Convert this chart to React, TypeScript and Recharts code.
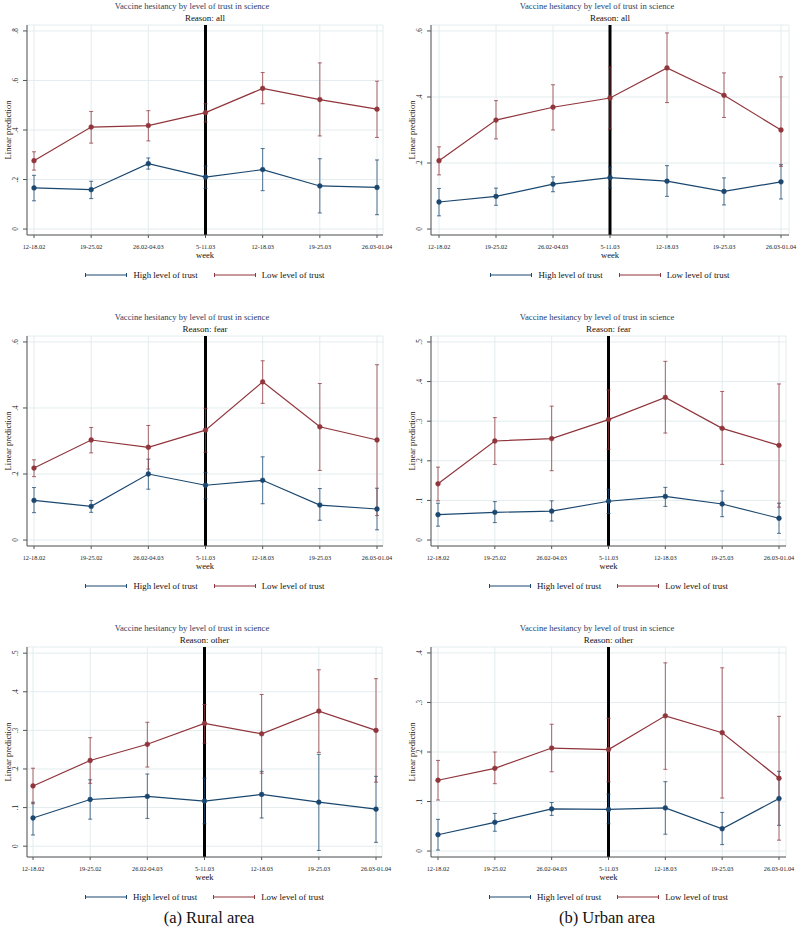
import React from 'react';
import { LineChart, Line, XAxis, YAxis, CartesianGrid, ReferenceLine, ErrorBar } from 'recharts';

const FONT = "'Liberation Serif', 'Times New Roman', Times, serif";
const BLUE = '#1a476f';
const RED = '#90353b';
const TITLE_COLOR = '#2c3d66';

const weeks = ['12-18.02', '19-25.02', '26.02-04.03', '5-11.03', '12-18.03', '19-25.03', '26.03-01.04'];
const seriesNames = ['High level of trust', 'Low level of trust'];
const mainTitle = 'Vaccine hesitancy by level of trust in science';

// Rural, reason: all
const ruralAllHigh = [0.166, 0.159, 0.264, 0.210, 0.240, 0.174, 0.168];
const ruralAllHighLo = [0.114, 0.123, 0.242, 0.164, 0.155, 0.065, 0.058];
const ruralAllHighHi = [0.217, 0.193, 0.287, 0.255, 0.325, 0.284, 0.279];
const ruralAllLow = [0.276, 0.412, 0.418, 0.470, 0.568, 0.523, 0.484];
const ruralAllLowLo = [0.238, 0.347, 0.356, 0.432, 0.506, 0.376, 0.370];
const ruralAllLowHi = [0.312, 0.475, 0.478, 0.506, 0.632, 0.671, 0.597];
const ruralAllTicks = [0, 0.2, 0.4, 0.6, 0.8];

// Urban, reason: all
const urbanAllHigh = [0.082, 0.099, 0.136, 0.156, 0.145, 0.114, 0.143];
const urbanAllHighLo = [0.040, 0.072, 0.113, 0.124, 0.099, 0.073, 0.091];
const urbanAllHighHi = [0.123, 0.124, 0.158, 0.188, 0.192, 0.155, 0.195];
const urbanAllLow = [0.207, 0.330, 0.369, 0.397, 0.488, 0.405, 0.300];
const urbanAllLowLo = [0.164, 0.273, 0.300, 0.303, 0.383, 0.338, 0.190];
const urbanAllLowHi = [0.249, 0.389, 0.437, 0.491, 0.594, 0.473, 0.461];
const urbanAllTicks = [0, 0.2, 0.4, 0.6];

// Rural, reason: fear
const ruralFearHigh = [0.120, 0.102, 0.200, 0.166, 0.181, 0.106, 0.094];
const ruralFearHighLo = [0.083, 0.084, 0.154, 0.125, 0.110, 0.060, 0.031];
const ruralFearHighHi = [0.159, 0.120, 0.245, 0.205, 0.252, 0.156, 0.157];
const ruralFearLow = [0.218, 0.303, 0.281, 0.333, 0.479, 0.343, 0.303];
const ruralFearLowLo = [0.192, 0.264, 0.215, 0.266, 0.414, 0.211, 0.074];
const ruralFearLowHi = [0.243, 0.341, 0.347, 0.399, 0.543, 0.474, 0.531];
const ruralFearTicks = [0, 0.2, 0.4, 0.6];

// Urban, reason: fear
const urbanFearHigh = [0.064, 0.070, 0.073, 0.098, 0.110, 0.091, 0.055];
const urbanFearHighLo = [0.035, 0.044, 0.048, 0.067, 0.085, 0.059, 0.017];
const urbanFearHighHi = [0.093, 0.097, 0.099, 0.128, 0.133, 0.124, 0.093];
const urbanFearLow = [0.142, 0.250, 0.256, 0.304, 0.360, 0.282, 0.239];
const urbanFearLowLo = [0.099, 0.191, 0.175, 0.229, 0.270, 0.191, 0.083];
const urbanFearLowHi = [0.184, 0.309, 0.338, 0.379, 0.451, 0.375, 0.394];
const urbanFearTicks = [0, 0.1, 0.2, 0.3, 0.4, 0.5];

// Rural, reason: other
const ruralOtherHigh = [0.073, 0.121, 0.129, 0.117, 0.134, 0.114, 0.096];
const ruralOtherHighLo = [0.029, 0.070, 0.072, 0.058, 0.073, -0.011, 0.010];
const ruralOtherHighHi = [0.114, 0.172, 0.187, 0.176, 0.194, 0.238, 0.181];
const ruralOtherLow = [0.156, 0.222, 0.264, 0.318, 0.291, 0.350, 0.300];
const ruralOtherLowLo = [0.110, 0.163, 0.205, 0.267, 0.189, 0.243, 0.166];
const ruralOtherLowHi = [0.202, 0.281, 0.321, 0.367, 0.393, 0.457, 0.434];
const ruralOtherTicks = [0, 0.1, 0.2, 0.3, 0.4, 0.5];

// Urban, reason: other
const urbanOtherHigh = [0.033, 0.058, 0.085, 0.084, 0.087, 0.045, 0.106];
const urbanOtherHighLo = [0.002, 0.040, 0.072, 0.055, 0.034, 0.013, 0.052];
const urbanOtherHighHi = [0.064, 0.076, 0.098, 0.115, 0.140, 0.078, 0.161];
const urbanOtherLow = [0.143, 0.167, 0.208, 0.205, 0.273, 0.239, 0.147];
const urbanOtherLowLo = [0.103, 0.136, 0.160, 0.140, 0.165, 0.107, 0.022];
const urbanOtherLowHi = [0.183, 0.200, 0.256, 0.268, 0.380, 0.370, 0.272];
const urbanOtherTicks = [0, 0.1, 0.2, 0.3, 0.4];

const buildRows = (
  high: number[], highLo: number[], highHi: number[],
  low: number[], lowLo: number[], lowHi: number[]
) =>
  weeks.map((w, i) => ({
    week: w,
    high: high[i],
    highErr: [high[i] - highLo[i], highHi[i] - high[i]],
    low: low[i],
    lowErr: [low[i] - lowLo[i], lowHi[i] - low[i]],
  }));

const fmt = (v: number) => (v === 0 ? '0' : v.toFixed(1).replace(/^0/, ''));

type PanelDef = {
  reason: string;
  rows: any[];
  ticks: number[];
  domain: [number, number];
  yW: number;
  mr: number;
  pl: number;
  pr: number;
  titleX: number;
};

const W = 399;
const H = 265;
const PLOT_TOP = 25;
const PLOT_BOTTOM = 235;

function CenterText(props: { x: number; y: number; size: number; color?: string; children: React.ReactNode; rotate?: boolean }) {
  const { x, y, size, color = '#111', children, rotate } = props;
  return (
    <div
      style={{
        position: 'absolute',
        left: x,
        top: y,
        transform: `translate(-50%, -50%)${rotate ? ' rotate(-90deg)' : ''}`,
        fontFamily: FONT,
        fontSize: size,
        lineHeight: `${size + 2}px`,
        color,
        whiteSpace: 'nowrap',
      }}
    >
      {children}
    </div>
  );
}

function LegendItem({ color, label }: { color: string; label: string }) {
  return (
    <div style={{ display: 'flex', alignItems: 'center' }}>
      <svg width={42} height={6} style={{ display: 'block' }}>
        <line x1={0.5} y1={3} x2={41.5} y2={3} stroke={color} strokeWidth={1.2} />
        <line x1={0.5} y1={1} x2={0.5} y2={5} stroke={color} strokeWidth={1} />
        <line x1={41.5} y1={1} x2={41.5} y2={5} stroke={color} strokeWidth={1} />
      </svg>
      <span style={{ marginLeft: 6, fontFamily: FONT, fontSize: 8.8, color: '#111', whiteSpace: 'nowrap' }}>{label}</span>
    </div>
  );
}

function Panel({ def, left, top }: { def: PanelDef; left: number; top: number }) {
  const plotLeft = def.yW;
  const plotRight = W - def.mr;
  const cx = (plotLeft + plotRight) / 2;

  const YTick = (p: any) => {
    const tx = def.yW - 11;
    return (
      <text
        x={tx}
        y={p.y}
        transform={`rotate(-90 ${tx} ${p.y})`}
        textAnchor="middle"
        dominantBaseline="central"
        fontFamily={FONT}
        fontSize={7.2}
        fill="#222"
      >
        {fmt(p.payload.value)}
      </text>
    );
  };

  const XTick = (p: any) => (
    <text
      x={p.x}
      y={246.5}
      textAnchor="middle"
      dominantBaseline="central"
      fontFamily={FONT}
      fontSize={6.3}
      fill="#222"
    >
      {p.payload.value}
    </text>
  );

  return (
    <div style={{ position: 'absolute', left, top, width: W, height: 300 }}>
      <CenterText x={def.titleX} y={6} size={8.6} color={TITLE_COLOR}>{mainTitle}</CenterText>
      <CenterText x={cx} y={18} size={9}>{`Reason: ${def.reason}`}</CenterText>
      <LineChart
        width={W}
        height={H}
        data={def.rows}
        margin={{ top: PLOT_TOP, right: def.mr, bottom: 0, left: 0 }}
      >
        <CartesianGrid stroke="#e3ecee" strokeWidth={1} />
        <XAxis
          dataKey="week"
          scale="point"
          padding={{ left: def.pl, right: def.pr }}
          height={H - PLOT_BOTTOM}
          interval={0}
          tickSize={3}
          tick={XTick}
          stroke="#555"
          axisLine={{ stroke: '#555', strokeWidth: 1 }}
          tickLine={{ stroke: '#555' }}
        />
        <YAxis
          type="number"
          domain={def.domain}
          ticks={def.ticks}
          allowDataOverflow
          width={def.yW}
          tickSize={4}
          tick={YTick}
          axisLine={{ stroke: '#555', strokeWidth: 1 }}
          tickLine={{ stroke: '#555' }}
        />
        <ReferenceLine x="5-11.03" stroke="#000" strokeWidth={3} />
        <Line
          dataKey="high"
          name={seriesNames[0]}
          stroke={BLUE}
          strokeWidth={1.2}
          dot={{ r: 2.4, fill: BLUE, stroke: BLUE, strokeWidth: 0.5 }}
          activeDot={false}
          isAnimationActive={false}
        >
          <ErrorBar dataKey="highErr" direction="y" width={2} stroke={BLUE} strokeOpacity={0.75} strokeWidth={1} isAnimationActive={false} />
        </Line>
        <Line
          dataKey="low"
          name={seriesNames[1]}
          stroke={RED}
          strokeWidth={1.2}
          dot={{ r: 2.4, fill: RED, stroke: RED, strokeWidth: 0.5 }}
          activeDot={false}
          isAnimationActive={false}
        >
          <ErrorBar dataKey="lowErr" direction="y" width={2} stroke={RED} strokeOpacity={0.75} strokeWidth={1} isAnimationActive={false} />
        </Line>
      </LineChart>
      <CenterText x={def.yW - 19} y={(PLOT_TOP + PLOT_BOTTOM) / 2} size={8.5} rotate>Linear prediction</CenterText>
      <CenterText x={cx} y={255} size={8.5}>week</CenterText>
      <div
        style={{
          position: 'absolute',
          left: cx - 160,
          width: 320,
          top: 269,
          height: 12,
          display: 'flex',
          justifyContent: 'center',
          alignItems: 'center',
          gap: 16,
        }}
      >
        <LegendItem color={BLUE} label={seriesNames[0]} />
        <LegendItem color={RED} label={seriesNames[1]} />
      </div>
    </div>
  );
}

const ruralAll: PanelDef = {
  reason: 'all',
  rows: buildRows(ruralAllHigh, ruralAllHighLo, ruralAllHighHi, ruralAllLow, ruralAllLowLo, ruralAllLowHi),
  ticks: ruralAllTicks, domain: [-0.024, 0.824], yW: 27, mr: 16, pl: 7, pr: 6, titleX: 192,
};
const urbanAll: PanelDef = {
  reason: 'all',
  rows: buildRows(urbanAllHigh, urbanAllHighLo, urbanAllHighHi, urbanAllLow, urbanAllLowLo, urbanAllLowHi),
  ticks: urbanAllTicks, domain: [-0.018, 0.618], yW: 32, mr: 9, pl: 8, pr: 8, titleX: 198,
};
const ruralFear: PanelDef = {
  reason: 'fear',
  rows: buildRows(ruralFearHigh, ruralFearHighLo, ruralFearHighHi, ruralFearLow, ruralFearLowLo, ruralFearLowHi),
  ticks: ruralFearTicks, domain: [-0.018, 0.618], yW: 27, mr: 16, pl: 7, pr: 6, titleX: 192,
};
const urbanFear: PanelDef = {
  reason: 'fear',
  rows: buildRows(urbanFearHigh, urbanFearHighLo, urbanFearHighHi, urbanFearLow, urbanFearLowLo, urbanFearLowHi),
  ticks: urbanFearTicks, domain: [-0.015, 0.515], yW: 32, mr: 12, pl: 7, pr: 7, titleX: 198,
};
const ruralOther: PanelDef = {
  reason: 'other',
  rows: buildRows(ruralOtherHigh, ruralOtherHighLo, ruralOtherHighHi, ruralOtherLow, ruralOtherLowLo, ruralOtherLowHi),
  ticks: ruralOtherTicks, domain: [-0.028, 0.516], yW: 27, mr: 17, pl: 6, pr: 6, titleX: 192,
};
const urbanOther: PanelDef = {
  reason: 'other',
  rows: buildRows(urbanOtherHigh, urbanOtherHighLo, urbanOtherHighHi, urbanOtherLow, urbanOtherLowLo, urbanOtherLowHi),
  ticks: urbanOtherTicks, domain: [-0.012, 0.412], yW: 32, mr: 12, pl: 7, pr: 7, titleX: 198,
};

export default function App() {
  return (
    <div style={{ position: 'absolute', left: 0, top: 0, width: 798, height: 930, background: '#fff', overflow: 'hidden' }}>
      <Panel def={ruralAll} left={0} top={0} />
      <Panel def={urbanAll} left={399} top={0} />
      <Panel def={ruralFear} left={0} top={311} />
      <Panel def={urbanFear} left={399} top={311} />
      <Panel def={ruralOther} left={0} top={622} />
      <Panel def={urbanOther} left={399} top={622} />
      <CenterText x={209} y={918} size={16.5}>(a) Rural area</CenterText>
      <CenterText x={607} y={918} size={16.5}>(b) Urban area</CenterText>
    </div>
  );
}
